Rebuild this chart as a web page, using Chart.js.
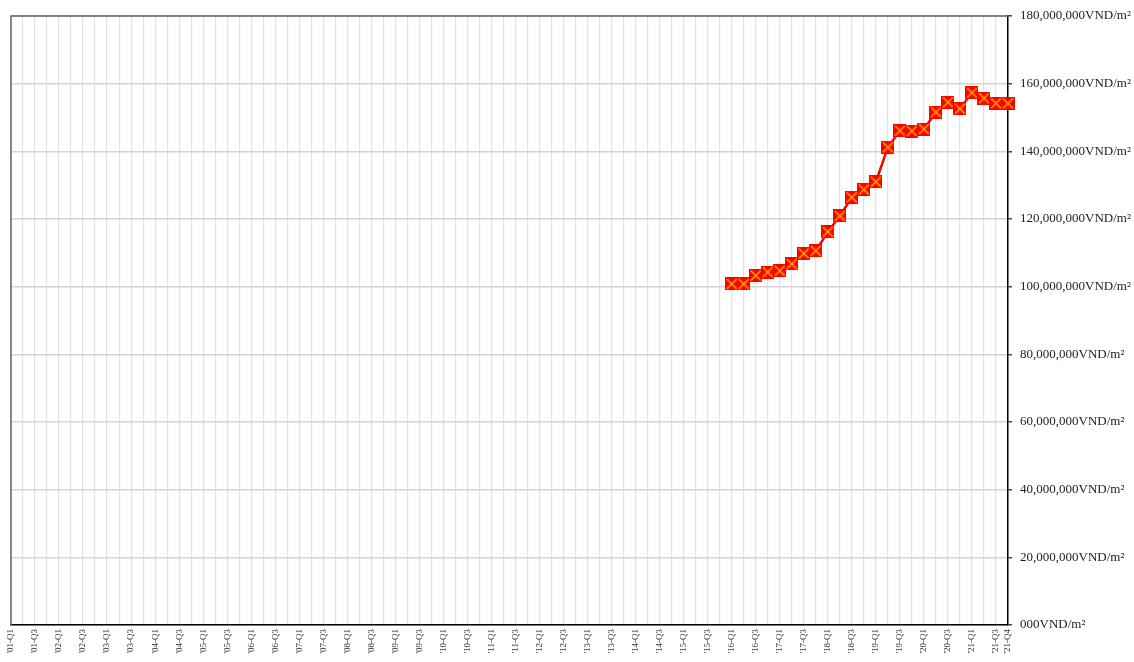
<!DOCTYPE html>
<html>
<head>
<meta charset="utf-8">
<script src="https://cdn.jsdelivr.net/npm/chart.js@4"></script>
<style>
  html, body { margin: 0; padding: 0; background: #fff; }
  #wrap { width: 1134px; height: 662px; }
</style>
</head>
<body>
<div id="wrap"><canvas id="price"></canvas></div>
<script>
// quarters '01-Q1 .. '21-Q4
const years = ['01','02','03','04','05','06','07','08','09','10','11','12','13','14','15','16','17','18','19','20','21']
const quarters = ['Q1','Q2','Q3','Q4']
const labels = []
years.forEach(y => quarters.forEach(q => labels.push("'" + y + '-' + q)))

// average price, million VND/m2, from 2016-Q1 on
const firstIdx = 60
const priceM = [100.8, 100.8, 103.3, 104.3, 104.7, 106.7, 109.8, 110.6, 116.2, 120.9, 126.4, 128.7,
                131.0, 141.2, 146.1, 146.0, 146.6, 151.6, 154.5, 152.6, 157.3, 155.7, 154.2, 154.2]

const yTicks = [0, 20, 40, 60, 80, 100, 120, 140, 160, 180]

const values = labels.map((l, i) => {
  const k = i - firstIdx
  return k >= 0 && k < priceM.length ? priceM[k] * 1e6 : null
})

// red square with orange cross marker
function makeMarker() {
  const c = document.createElement('canvas')
  c.width = 13; c.height = 13
  const g = c.getContext('2d')
  g.fillStyle = '#ff0000'
  g.fillRect(0, 0, 13, 13)
  g.strokeStyle = '#ffaa00'
  g.lineWidth = 1.5
  g.beginPath()
  g.moveTo(1.5, 1.5); g.lineTo(11.5, 11.5)
  g.moveTo(11.5, 1.5); g.lineTo(1.5, 11.5)
  g.stroke()
  return c
}
const marker = makeMarker()

function fmt(v) {
  if (v === 0) return '000VND/m²'
  return v.toLocaleString('en-US') + 'VND/m²'
}

// box around plot: dark top and left border
const frame = {
  id: 'frame',
  beforeDatasetsDraw(chart) {
    const a = chart.chartArea, ctx = chart.ctx
    ctx.save()
    ctx.strokeStyle = '#666'
    ctx.lineWidth = 1.5
    ctx.beginPath()
    ctx.moveTo(a.left, a.bottom)
    ctx.lineTo(a.left, a.top)
    ctx.lineTo(a.right, a.top)
    ctx.stroke()
    ctx.restore()
  }
}

new Chart(document.getElementById('price'), {
  type: 'line',
  data: {
    labels: labels,
    datasets: [{
      data: values,
      borderColor: '#ff0000',
      borderWidth: 2.5,
      pointStyle: marker,
      pointRadius: 6.5,
      pointHoverRadius: 6.5,
      tension: 0,
      spanGaps: false
    }]
  },
  options: {
    responsive: true,
    maintainAspectRatio: false,
    animation: false,
    layout: { padding: { left: 11, top: 16, right: 0, bottom: 0 } },
    plugins: { legend: { display: false }, tooltip: { enabled: false } },
    scales: {
      x: {
        offset: false,
        grid: { color: '#e2e2e2', lineWidth: 1.2, drawTicks: false },
        border: { color: '#000', width: 1.5 },
        afterFit(s) { s.height = 37 },
        ticks: {
          autoSkip: false,
          maxRotation: 90,
          minRotation: 90,
          padding: 4,
          color: '#333',
          font: { family: 'Liberation Serif', size: 9 },
          callback(v, i) { return (i % 2 === 0 || i === labels.length - 1) ? labels[i] : '' }
        }
      },
      y: {
        position: 'right',
        min: 0,
        max: 180e6,
        afterFit(s) { s.width = 126 },
        afterBuildTicks(s) { s.ticks = yTicks.map(v => ({ value: v * 1e6 })) },
        grid: { color: '#d4d4d4', lineWidth: 1.5, tickLength: 4, tickColor: '#444' },
        border: { color: '#000', width: 1.5 },
        ticks: {
          padding: 8,
          color: '#222',
          font: { family: 'Liberation Serif', size: 13 },
          callback: v => fmt(v)
        }
      }
    }
  },
  plugins: [frame]
})
</script>
</body>
</html>
